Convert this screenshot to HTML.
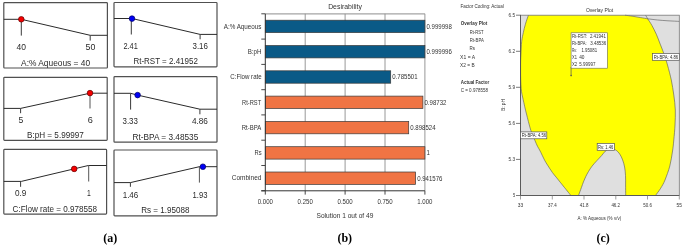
<!DOCTYPE html>
<html><head><meta charset="utf-8">
<style>
html,body{margin:0;padding:0;background:#fff;}
body{width:685px;height:246px;overflow:hidden;}
svg{display:block;will-change:transform;font-family:"Liberation Sans",sans-serif;}
.ta{fill:#2a2a2a;}
.tb{fill:#333;}
.t5{font-size:4.6px;fill:#333;}
.lab{font-family:"Liberation Serif",serif;font-weight:bold;font-size:12px;fill:#000;}
</style></head><body>
<svg width="685" height="246" viewBox="0 0 685 246">
<rect x="3.8" y="2.6" width="103.6" height="65.4" rx="0.8" fill="none" stroke="#505050" stroke-width="1.2"/>
<polyline points="3.8,19.3 21.3,19.3 90.2,35.3 107.4,35.3" fill="none" stroke="#2a2a2a" stroke-width="1.0"/>
<line x1="21.3" y1="19.3" x2="21.3" y2="35.6" stroke="#3a3a3a" stroke-width="1.0"/>
<line x1="90.2" y1="35.3" x2="90.2" y2="40.6" stroke="#3a3a3a" stroke-width="1.0"/>
<circle cx="21.3" cy="19.3" r="2.8" fill="#f50000" stroke="#600000" stroke-width="0.7"/>
<text x="16.4" y="50.2" textLength="9.5" lengthAdjust="spacingAndGlyphs" class="ta" style="font-size:8.8px">40</text>
<text x="85.6" y="50.1" textLength="9.8" lengthAdjust="spacingAndGlyphs" class="ta" style="font-size:8.8px">50</text>
<text x="21.1" y="65.8" textLength="69.0" lengthAdjust="spacingAndGlyphs" class="ta" style="font-size:8.8px">A:% Aqueous = 40</text>
<rect x="114" y="2.5" width="103.0" height="64.3" rx="0.8" fill="none" stroke="#505050" stroke-width="1.2"/>
<polyline points="114,18.5 132,18.5 200.1,34.4 217,34.4" fill="none" stroke="#2a2a2a" stroke-width="1.0"/>
<line x1="131.3" y1="18.5" x2="131.3" y2="34.5" stroke="#3a3a3a" stroke-width="1.0"/>
<line x1="200.1" y1="34.4" x2="200.1" y2="39.3" stroke="#3a3a3a" stroke-width="1.0"/>
<circle cx="132" cy="18.6" r="2.8" fill="#0000f5" stroke="#000060" stroke-width="0.7"/>
<text x="123.4" y="49.0" textLength="14.4" lengthAdjust="spacingAndGlyphs" class="ta" style="font-size:8.8px">2.41</text>
<text x="192.5" y="49.0" textLength="15.4" lengthAdjust="spacingAndGlyphs" class="ta" style="font-size:8.8px">3.16</text>
<text x="133.4" y="64.3" textLength="64.5" lengthAdjust="spacingAndGlyphs" class="ta" style="font-size:8.8px">Rt-RST = 2.41952</text>
<rect x="3.8" y="77.3" width="103.4" height="63.1" rx="0.8" fill="none" stroke="#505050" stroke-width="1.2"/>
<polyline points="3.8,108.4 20.6,108.4 90,93.2 107.2,93.2" fill="none" stroke="#2a2a2a" stroke-width="1.0"/>
<line x1="20.6" y1="108.4" x2="20.6" y2="113.2" stroke="#3a3a3a" stroke-width="1.0"/>
<line x1="90" y1="93.2" x2="90" y2="108.5" stroke="#555" stroke-width="1.0"/>
<circle cx="90" cy="93.1" r="2.8" fill="#f50000" stroke="#600000" stroke-width="0.7"/>
<text x="18.6" y="122.7" textLength="4.8" lengthAdjust="spacingAndGlyphs" class="ta" style="font-size:8.8px">5</text>
<text x="87.7" y="122.7" textLength="5.1" lengthAdjust="spacingAndGlyphs" class="ta" style="font-size:8.8px">6</text>
<text x="27.0" y="138.4" textLength="56.8" lengthAdjust="spacingAndGlyphs" class="ta" style="font-size:8.8px">B:pH = 5.99997</text>
<rect x="114" y="76.7" width="103.0" height="65.5" rx="0.8" fill="none" stroke="#505050" stroke-width="1.2"/>
<polyline points="114,93.3 130.6,93.3 137.6,95.1 199.9,109.2 217,109.2" fill="none" stroke="#2a2a2a" stroke-width="1.0"/>
<line x1="130.6" y1="93.3" x2="130.6" y2="109.6" stroke="#3a3a3a" stroke-width="1.0"/>
<line x1="199.9" y1="109.2" x2="199.9" y2="114.3" stroke="#3a3a3a" stroke-width="1.0"/>
<circle cx="137.6" cy="95.1" r="2.8" fill="#0000f5" stroke="#000060" stroke-width="0.7"/>
<text x="122.5" y="124.4" textLength="15.4" lengthAdjust="spacingAndGlyphs" class="ta" style="font-size:8.8px">3.33</text>
<text x="191.9" y="124.3" textLength="16.0" lengthAdjust="spacingAndGlyphs" class="ta" style="font-size:8.8px">4.86</text>
<text x="132.5" y="140.2" textLength="65.8" lengthAdjust="spacingAndGlyphs" class="ta" style="font-size:8.8px">Rt-BPA = 3.48535</text>
<rect x="3.8" y="149.4" width="102.8" height="64.7" rx="0.8" fill="none" stroke="#505050" stroke-width="1.2"/>
<polyline points="3.8,181.4 21.3,181.4 88.3,165.5 106.6,165.5" fill="none" stroke="#2a2a2a" stroke-width="1.0"/>
<line x1="20.6" y1="181.4" x2="20.6" y2="186.8" stroke="#3a3a3a" stroke-width="1.0"/>
<line x1="88.7" y1="165.5" x2="88.7" y2="181.5" stroke="#555" stroke-width="1.0"/>
<circle cx="74.2" cy="168.9" r="2.8" fill="#f50000" stroke="#600000" stroke-width="0.7"/>
<text x="14.9" y="196.1" textLength="11.4" lengthAdjust="spacingAndGlyphs" class="ta" style="font-size:8.8px">0.9</text>
<text x="87.0" y="196.1" textLength="3.8" lengthAdjust="spacingAndGlyphs" class="ta" style="font-size:8.8px">1</text>
<text x="12.6" y="211.6" textLength="84.5" lengthAdjust="spacingAndGlyphs" class="ta" style="font-size:8.8px">C:Flow rate = 0.978558</text>
<rect x="114" y="150" width="103.0" height="65.8" rx="0.8" fill="none" stroke="#505050" stroke-width="1.2"/>
<polyline points="114,182.6 130.4,182.6 199.4,166.7 217,166.7" fill="none" stroke="#2a2a2a" stroke-width="1.0"/>
<line x1="130.4" y1="182.6" x2="130.4" y2="186.8" stroke="#3a3a3a" stroke-width="1.0"/>
<line x1="199.4" y1="166.7" x2="199.4" y2="182.6" stroke="#555" stroke-width="1.0"/>
<circle cx="202.9" cy="166.7" r="2.8" fill="#0000f5" stroke="#000060" stroke-width="0.7"/>
<text x="122.7" y="197.5" textLength="15.6" lengthAdjust="spacingAndGlyphs" class="ta" style="font-size:8.8px">1.46</text>
<text x="192.5" y="197.5" textLength="14.9" lengthAdjust="spacingAndGlyphs" class="ta" style="font-size:8.8px">1.93</text>
<text x="141.2" y="213.2" textLength="48.2" lengthAdjust="spacingAndGlyphs" class="ta" style="font-size:8.8px">Rs = 1.95088</text>
<text x="345" y="9.1" text-anchor="middle" class="tb" style="font-size:6.9px">Desirability</text>
<line x1="265.3" y1="13.8" x2="424.9" y2="13.8" stroke="#a4a4a4" stroke-width="1.2"/>
<line x1="305.2" y1="13.8" x2="305.2" y2="190.8" stroke="#8c8c8c" stroke-width="0.9"/>
<line x1="345.1" y1="13.8" x2="345.1" y2="190.8" stroke="#8c8c8c" stroke-width="0.9"/>
<line x1="385.0" y1="13.8" x2="385.0" y2="190.8" stroke="#8c8c8c" stroke-width="0.9"/>
<line x1="424.9" y1="13.8" x2="424.9" y2="190.8" stroke="#8c8c8c" stroke-width="0.9"/>
<rect x="265.3" y="20.2" width="159.6" height="12.4" fill="#0a5a87" stroke="#3a3a3a" stroke-width="0.7"/>
<text x="426.5" y="28.8" textLength="25.3" lengthAdjust="spacingAndGlyphs" class="tb" style="font-size:6.9px">0.999998</text>
<text x="223.7" y="28.5" textLength="37.8" lengthAdjust="spacingAndGlyphs" class="tb" style="font-size:7px">A:% Aqueous</text>
<rect x="265.3" y="45.5" width="159.6" height="12.4" fill="#0a5a87" stroke="#3a3a3a" stroke-width="0.7"/>
<text x="426.5" y="54.1" textLength="25.3" lengthAdjust="spacingAndGlyphs" class="tb" style="font-size:6.9px">0.999996</text>
<text x="247.7" y="53.7" textLength="13.7" lengthAdjust="spacingAndGlyphs" class="tb" style="font-size:7px">B:pH</text>
<rect x="265.3" y="70.8" width="125.4" height="12.4" fill="#0a5a87" stroke="#3a3a3a" stroke-width="0.7"/>
<text x="392.3" y="79.4" textLength="25.3" lengthAdjust="spacingAndGlyphs" class="tb" style="font-size:6.9px">0.785501</text>
<text x="230.3" y="78.7" textLength="31.4" lengthAdjust="spacingAndGlyphs" class="tb" style="font-size:7px">C:Flow rate</text>
<rect x="265.3" y="96.1" width="157.6" height="12.4" fill="#f07444" stroke="#3a3a3a" stroke-width="0.7"/>
<text x="424.5" y="104.7" textLength="21.9" lengthAdjust="spacingAndGlyphs" class="tb" style="font-size:6.9px">0.98732</text>
<text x="242.1" y="104.8" textLength="19.1" lengthAdjust="spacingAndGlyphs" class="tb" style="font-size:7px">Rt-RST</text>
<rect x="265.3" y="121.4" width="143.4" height="12.4" fill="#f07444" stroke="#3a3a3a" stroke-width="0.7"/>
<text x="410.3" y="130.0" textLength="25.3" lengthAdjust="spacingAndGlyphs" class="tb" style="font-size:6.9px">0.898524</text>
<text x="241.8" y="129.8" textLength="19.5" lengthAdjust="spacingAndGlyphs" class="tb" style="font-size:7px">Rt-BPA</text>
<rect x="265.3" y="146.7" width="159.6" height="12.4" fill="#f07444" stroke="#3a3a3a" stroke-width="0.7"/>
<text x="426.5" y="155.3" textLength="3.4" lengthAdjust="spacingAndGlyphs" class="tb" style="font-size:6.9px">1</text>
<text x="254.6" y="155.3" textLength="7.1" lengthAdjust="spacingAndGlyphs" class="tb" style="font-size:7px">Rs</text>
<rect x="265.3" y="172.0" width="150.3" height="12.4" fill="#f07444" stroke="#3a3a3a" stroke-width="0.7"/>
<text x="417.2" y="180.6" textLength="25.3" lengthAdjust="spacingAndGlyphs" class="tb" style="font-size:6.9px">0.941576</text>
<text x="231.7" y="180.1" textLength="29.7" lengthAdjust="spacingAndGlyphs" class="tb" style="font-size:7px">Combined</text>
<line x1="265.3" y1="13.8" x2="265.3" y2="190.8" stroke="#333" stroke-width="1"/>
<line x1="261.3" y1="13.8" x2="265.3" y2="13.8" stroke="#333" stroke-width="0.9"/>
<line x1="261.3" y1="39.1" x2="265.3" y2="39.1" stroke="#333" stroke-width="0.9"/>
<line x1="261.3" y1="64.4" x2="265.3" y2="64.4" stroke="#333" stroke-width="0.9"/>
<line x1="261.3" y1="89.7" x2="265.3" y2="89.7" stroke="#333" stroke-width="0.9"/>
<line x1="261.3" y1="114.9" x2="265.3" y2="114.9" stroke="#333" stroke-width="0.9"/>
<line x1="261.3" y1="140.2" x2="265.3" y2="140.2" stroke="#333" stroke-width="0.9"/>
<line x1="261.3" y1="165.5" x2="265.3" y2="165.5" stroke="#333" stroke-width="0.9"/>
<line x1="261.3" y1="190.8" x2="265.3" y2="190.8" stroke="#333" stroke-width="0.9"/>
<line x1="261.3" y1="190.8" x2="424.9" y2="190.8" stroke="#333" stroke-width="1"/>
<line x1="265.3" y1="190.8" x2="265.3" y2="194.60000000000002" stroke="#333" stroke-width="0.9"/>
<text x="257.7" y="203.9" textLength="15.2" lengthAdjust="spacingAndGlyphs" class="tb" style="font-size:6.9px">0.000</text>
<line x1="305.2" y1="190.8" x2="305.2" y2="194.60000000000002" stroke="#333" stroke-width="0.9"/>
<text x="297.6" y="203.9" textLength="15.2" lengthAdjust="spacingAndGlyphs" class="tb" style="font-size:6.9px">0.250</text>
<line x1="345.1" y1="190.8" x2="345.1" y2="194.60000000000002" stroke="#333" stroke-width="0.9"/>
<text x="337.5" y="203.9" textLength="15.2" lengthAdjust="spacingAndGlyphs" class="tb" style="font-size:6.9px">0.500</text>
<line x1="385.0" y1="190.8" x2="385.0" y2="194.60000000000002" stroke="#333" stroke-width="0.9"/>
<text x="377.4" y="203.9" textLength="15.2" lengthAdjust="spacingAndGlyphs" class="tb" style="font-size:6.9px">0.750</text>
<line x1="424.9" y1="190.8" x2="424.9" y2="194.60000000000002" stroke="#333" stroke-width="0.9"/>
<text x="417.3" y="203.9" textLength="15.2" lengthAdjust="spacingAndGlyphs" class="tb" style="font-size:6.9px">1.000</text>
<text x="344.9" y="218.1" text-anchor="middle" class="tb" style="font-size:6.6px">Solution 1 out of 49</text>
<rect x="520.5" y="15.2" width="158.8" height="180.3" fill="#dfdfdf"/>
<path d="M528.4,15.2 L625,15.2 L625.0,15.2 C626.3,15.4 630.4,15.9 633.0,16.3 C635.6,16.7 638.1,17.2 640.6,17.6 C643.1,18.0 646.5,18.6 647.7,18.8 L647.7,18.8 C648.4,19.9 650.6,23.0 652.0,25.6 C653.4,28.2 654.9,31.1 656.3,34.2 C657.7,37.3 658.9,40.8 660.2,44.1 C661.5,47.4 662.8,50.5 664.0,54.0 C665.2,57.5 666.3,60.7 667.5,65.0 C668.7,69.3 670.2,75.0 671.3,80.0 C672.3,85.0 673.1,90.0 673.8,95.0 C674.5,100.0 675.1,105.0 675.3,110.0 C675.5,115.0 675.2,120.0 675.0,125.0 C674.8,130.0 674.2,135.5 673.8,140.0 C673.4,144.5 673.1,147.7 672.4,152.0 C671.7,156.3 671.0,161.3 669.8,166.0 C668.6,170.7 666.5,176.2 665.0,180.0 C663.5,183.8 662.1,185.9 660.5,188.5 C658.9,191.1 656.3,194.3 655.5,195.5 L625.7,195.5 L625.7,195.5 C625.7,193.8 625.6,188.3 625.6,185.0 C625.6,181.7 625.7,178.5 625.5,175.5 C625.3,172.5 625.1,169.6 624.6,167.0 C624.1,164.4 623.4,162.0 622.6,159.9 C621.8,157.8 621.0,155.9 619.8,154.2 C618.6,152.5 617.2,150.8 615.5,149.9 C613.8,149.0 611.5,148.4 609.8,148.6 C608.1,148.8 606.9,149.8 605.5,151.0 C604.1,152.2 603.0,154.0 601.6,155.6 C600.2,157.2 598.6,158.8 597.0,160.5 C595.4,162.2 593.5,164.3 592.1,166.1 C590.7,167.9 589.6,169.7 588.5,171.5 C587.4,173.3 586.6,174.9 585.7,176.7 C584.9,178.4 584.1,180.2 583.4,182.0 C582.7,183.8 582.3,185.1 581.5,187.3 C580.7,189.6 579.0,194.1 578.5,195.5 L570.9,195.5 L570.9,195.5 C570.5,195.0 569.4,193.7 568.3,192.3 C567.2,190.9 565.6,188.9 564.2,187.2 C562.9,185.5 561.6,183.9 560.2,182.2 C558.9,180.5 557.4,178.7 556.1,177.1 C554.8,175.5 553.8,174.5 552.4,172.5 C551.0,170.5 548.9,167.2 547.6,165.2 C546.3,163.1 545.5,161.9 544.6,160.2 C543.7,158.5 542.9,156.8 542.1,155.1 C541.3,153.4 540.4,151.4 539.6,150.0 C538.9,148.6 538.4,148.1 537.6,146.5 C536.8,144.9 535.7,142.3 534.9,140.4 C534.1,138.5 533.3,136.7 532.6,135.0 C531.9,133.3 531.5,132.2 530.9,130.5 C530.3,128.8 529.9,127.2 529.3,125.0 C528.7,122.8 528.0,120.1 527.4,117.6 C526.8,115.1 526.1,112.6 525.5,110.1 C524.9,107.6 524.3,104.7 523.8,102.5 C523.3,100.3 523.0,98.8 522.6,97.0 C522.2,95.2 521.8,93.6 521.5,91.5 C521.2,89.4 521.0,87.2 520.9,84.4 C520.8,81.7 520.6,78.2 520.6,75.0 C520.6,71.8 520.6,68.3 520.6,65.0 C520.6,61.7 520.7,59.0 520.9,55.0 C521.1,51.0 521.3,45.0 521.7,41.3 C522.1,37.6 522.7,35.6 523.3,32.7 C523.9,29.9 524.5,27.1 525.4,24.2 C526.2,21.3 527.9,16.7 528.4,15.2 Z" fill="#ffff00"/>
<path d="M625.0,15.2 C626.3,15.4 630.4,15.9 633.0,16.3 C635.6,16.7 638.1,17.2 640.6,17.6 C643.1,18.0 646.5,18.6 647.7,18.8" fill="none" stroke="#555" stroke-width="0.6"/>
<path d="M647.7,18.8 C648.4,19.9 650.6,23.0 652.0,25.6 C653.4,28.2 654.9,31.1 656.3,34.2 C657.7,37.3 658.9,40.8 660.2,44.1 C661.5,47.4 662.8,50.5 664.0,54.0 C665.2,57.5 666.3,60.7 667.5,65.0 C668.7,69.3 670.2,75.0 671.3,80.0 C672.3,85.0 673.1,90.0 673.8,95.0 C674.5,100.0 675.1,105.0 675.3,110.0 C675.5,115.0 675.2,120.0 675.0,125.0 C674.8,130.0 674.2,135.5 673.8,140.0 C673.4,144.5 673.1,147.7 672.4,152.0 C671.7,156.3 671.0,161.3 669.8,166.0 C668.6,170.7 666.5,176.2 665.0,180.0 C663.5,183.8 662.1,185.9 660.5,188.5 C658.9,191.1 656.3,194.3 655.5,195.5" fill="none" stroke="#555" stroke-width="0.6"/>
<path d="M625.7,195.5 C625.7,193.8 625.6,188.3 625.6,185.0 C625.6,181.7 625.7,178.5 625.5,175.5 C625.3,172.5 625.1,169.6 624.6,167.0 C624.1,164.4 623.4,162.0 622.6,159.9 C621.8,157.8 621.0,155.9 619.8,154.2 C618.6,152.5 617.2,150.8 615.5,149.9 C613.8,149.0 611.5,148.4 609.8,148.6 C608.1,148.8 606.9,149.8 605.5,151.0 C604.1,152.2 603.0,154.0 601.6,155.6 C600.2,157.2 598.6,158.8 597.0,160.5 C595.4,162.2 593.5,164.3 592.1,166.1 C590.7,167.9 589.6,169.7 588.5,171.5 C587.4,173.3 586.6,174.9 585.7,176.7 C584.9,178.4 584.1,180.2 583.4,182.0 C582.7,183.8 582.3,185.1 581.5,187.3 C580.7,189.6 579.0,194.1 578.5,195.5" fill="none" stroke="#555" stroke-width="0.6"/>
<path d="M570.9,195.5 C570.5,195.0 569.4,193.7 568.3,192.3 C567.2,190.9 565.6,188.9 564.2,187.2 C562.9,185.5 561.6,183.9 560.2,182.2 C558.9,180.5 557.4,178.7 556.1,177.1 C554.8,175.5 553.8,174.5 552.4,172.5 C551.0,170.5 548.9,167.2 547.6,165.2 C546.3,163.1 545.5,161.9 544.6,160.2 C543.7,158.5 542.9,156.8 542.1,155.1 C541.3,153.4 540.4,151.4 539.6,150.0 C538.9,148.6 538.4,148.1 537.6,146.5 C536.8,144.9 535.7,142.3 534.9,140.4 C534.1,138.5 533.3,136.7 532.6,135.0 C531.9,133.3 531.5,132.2 530.9,130.5 C530.3,128.8 529.9,127.2 529.3,125.0 C528.7,122.8 528.0,120.1 527.4,117.6 C526.8,115.1 526.1,112.6 525.5,110.1 C524.9,107.6 524.3,104.7 523.8,102.5 C523.3,100.3 523.0,98.8 522.6,97.0 C522.2,95.2 521.8,93.6 521.5,91.5 C521.2,89.4 521.0,87.2 520.9,84.4 C520.8,81.7 520.6,78.2 520.6,75.0 C520.6,71.8 520.6,68.3 520.6,65.0 C520.6,61.7 520.7,59.0 520.9,55.0 C521.1,51.0 521.3,45.0 521.7,41.3 C522.1,37.6 522.7,35.6 523.3,32.7 C523.9,29.9 524.5,27.1 525.4,24.2 C526.2,21.3 527.9,16.7 528.4,15.2" fill="none" stroke="#555" stroke-width="0.6"/>
<path d="M647.7,18.8 C649.4,19.0 654.3,19.7 657.7,20.0 C661.1,20.3 664.4,20.6 668.0,20.8 C671.6,21.0 677.4,21.3 679.3,21.4" fill="none" stroke="#555" stroke-width="0.6"/>
<line x1="645.6" y1="15.2" x2="647.7" y2="18.8" stroke="#555" stroke-width="0.6"/>
<rect x="520.5" y="15.2" width="158.8" height="180.3" fill="none" stroke="#777" stroke-width="0.8"/>
<line x1="520.5" y1="15.2" x2="520.5" y2="195.5" stroke="#555" stroke-width="0.9"/>
<line x1="520.5" y1="195.5" x2="679.3" y2="195.5" stroke="#555" stroke-width="0.9"/>
<line x1="516.0" y1="15.2" x2="520.5" y2="15.2" stroke="#444" stroke-width="0.7"/>
<text x="508.6" y="17.0" textLength="6.5" lengthAdjust="spacingAndGlyphs" style="font-size:4.9px;fill:#333">6.5</text>
<line x1="516.0" y1="51.3" x2="520.5" y2="51.3" stroke="#444" stroke-width="0.7"/>
<text x="508.6" y="53.1" textLength="6.5" lengthAdjust="spacingAndGlyphs" style="font-size:4.9px;fill:#333">6.2</text>
<line x1="516.0" y1="87.3" x2="520.5" y2="87.3" stroke="#444" stroke-width="0.7"/>
<text x="508.6" y="89.1" textLength="6.5" lengthAdjust="spacingAndGlyphs" style="font-size:4.9px;fill:#333">5.9</text>
<line x1="516.0" y1="123.4" x2="520.5" y2="123.4" stroke="#444" stroke-width="0.7"/>
<text x="508.6" y="125.2" textLength="6.5" lengthAdjust="spacingAndGlyphs" style="font-size:4.9px;fill:#333">5.6</text>
<line x1="516.0" y1="159.4" x2="520.5" y2="159.4" stroke="#444" stroke-width="0.7"/>
<text x="508.6" y="161.2" textLength="6.5" lengthAdjust="spacingAndGlyphs" style="font-size:4.9px;fill:#333">5.3</text>
<line x1="516.0" y1="195.5" x2="520.5" y2="195.5" stroke="#444" stroke-width="0.7"/>
<text x="512.9" y="197.3" textLength="2.2" lengthAdjust="spacingAndGlyphs" style="font-size:4.9px;fill:#333">5</text>
<line x1="520.5" y1="195.5" x2="520.5" y2="199.5" stroke="#777" stroke-width="0.7"/>
<text x="517.8" y="207.1" textLength="5.4" lengthAdjust="spacingAndGlyphs" style="font-size:4.9px;fill:#333">33</text>
<line x1="552.3" y1="195.5" x2="552.3" y2="199.5" stroke="#777" stroke-width="0.7"/>
<text x="548.0" y="207.1" textLength="8.6" lengthAdjust="spacingAndGlyphs" style="font-size:4.9px;fill:#333">37.4</text>
<line x1="584.0" y1="195.5" x2="584.0" y2="199.5" stroke="#777" stroke-width="0.7"/>
<text x="579.7" y="207.1" textLength="8.7" lengthAdjust="spacingAndGlyphs" style="font-size:4.9px;fill:#333">41.8</text>
<line x1="615.8" y1="195.5" x2="615.8" y2="199.5" stroke="#777" stroke-width="0.7"/>
<text x="611.4" y="207.1" textLength="8.7" lengthAdjust="spacingAndGlyphs" style="font-size:4.9px;fill:#333">46.2</text>
<line x1="647.5" y1="195.5" x2="647.5" y2="199.5" stroke="#777" stroke-width="0.7"/>
<text x="643.2" y="207.1" textLength="8.7" lengthAdjust="spacingAndGlyphs" style="font-size:4.9px;fill:#333">50.6</text>
<line x1="679.3" y1="195.5" x2="679.3" y2="199.5" stroke="#777" stroke-width="0.7"/>
<text x="676.6" y="207.1" textLength="5.4" lengthAdjust="spacingAndGlyphs" style="font-size:4.9px;fill:#333">55</text>
<text x="577.4" y="219.7" textLength="43.8" lengthAdjust="spacingAndGlyphs" style="font-size:5.2px;fill:#333">A: % Aqueous (% v/v)</text>
<text transform="translate(505.2,105) rotate(-90)" text-anchor="middle" style="font-size:4.9px;fill:#333">B: pH</text>
<text x="585.9" y="11.8" textLength="27.2" lengthAdjust="spacingAndGlyphs" style="font-size:5.6px;fill:#333">Overlay Plot</text>
<text x="460.4" y="8.3" textLength="43.5" lengthAdjust="spacingAndGlyphs" style="font-size:5.5px;fill:#333">Factor Coding: Actual</text>
<text x="460.8" y="24.9" textLength="26.4" lengthAdjust="spacingAndGlyphs" style="font-size:5.5px;fill:#333;font-weight:bold">Overlay Plot</text>
<text x="469.8" y="33.7" textLength="13.7" lengthAdjust="spacingAndGlyphs" style="font-size:5.5px;fill:#333">Rt-RST</text>
<text x="469.8" y="42.1" textLength="14.0" lengthAdjust="spacingAndGlyphs" style="font-size:5.5px;fill:#333">Rt-BPA</text>
<text x="469.6" y="49.9" textLength="5.5" lengthAdjust="spacingAndGlyphs" style="font-size:5.5px;fill:#333">Rs</text>
<text x="460.1" y="58.9" textLength="15.0" lengthAdjust="spacingAndGlyphs" style="font-size:5.5px;fill:#333">X1 = A</text>
<text x="460.1" y="66.8" textLength="14.5" lengthAdjust="spacingAndGlyphs" style="font-size:5.5px;fill:#333">X2 = B</text>
<text x="460.7" y="83.8" textLength="28.6" lengthAdjust="spacingAndGlyphs" style="font-size:5.5px;fill:#333;font-weight:bold">Actual Factor</text>
<text x="460.7" y="92.3" textLength="27.3" lengthAdjust="spacingAndGlyphs" style="font-size:5.5px;fill:#333">C = 0.978558</text>
<line x1="571.1" y1="67" x2="571.1" y2="75.6" stroke="#555" stroke-width="0.7"/>
<circle cx="571.1" cy="75.6" r="0.8" fill="#555"/>
<rect x="571.1" y="32.8" width="36.2" height="35.4" fill="#fff" stroke="#666" stroke-width="0.6"/>
<text x="572.0" y="38.3" textLength="15.1" lengthAdjust="spacingAndGlyphs" style="font-size:4.9px;fill:#333">Rt-RST:</text>
<text x="589.9" y="38.3" textLength="16.1" lengthAdjust="spacingAndGlyphs" style="font-size:4.9px;fill:#333">2.41941</text>
<text x="572.0" y="44.9" textLength="14.6" lengthAdjust="spacingAndGlyphs" style="font-size:4.9px;fill:#333">Rt-BPA:</text>
<text x="590.2" y="44.9" textLength="16.1" lengthAdjust="spacingAndGlyphs" style="font-size:4.9px;fill:#333">3.48536</text>
<text x="572.0" y="51.9" textLength="4.9" lengthAdjust="spacingAndGlyphs" style="font-size:4.9px;fill:#333">Rs:</text>
<text x="581.4" y="51.9" textLength="15.7" lengthAdjust="spacingAndGlyphs" style="font-size:4.9px;fill:#333">1.95081</text>
<text x="572.0" y="59.0" textLength="4.9" lengthAdjust="spacingAndGlyphs" style="font-size:4.9px;fill:#333">X1</text>
<text x="579.2" y="59.0" textLength="5.3" lengthAdjust="spacingAndGlyphs" style="font-size:4.9px;fill:#333">40</text>
<text x="572.0" y="65.8" textLength="5.2" lengthAdjust="spacingAndGlyphs" style="font-size:4.9px;fill:#333">X2</text>
<text x="579.2" y="65.8" textLength="16.2" lengthAdjust="spacingAndGlyphs" style="font-size:4.9px;fill:#333">5.99997</text>
<rect x="652.6" y="53.4" width="26.7" height="6.9" fill="#fff" stroke="#555" stroke-width="0.7"/>
<text x="653.8" y="58.8" textLength="24.3" lengthAdjust="spacingAndGlyphs" style="font-size:5.3px;fill:#2a2a2a">Rt-BPA: 4.86</text>
<rect x="520.6" y="131.9" width="26.2" height="6.9" fill="#fff" stroke="#555" stroke-width="0.7"/>
<text x="521.8" y="137.1" textLength="24.3" lengthAdjust="spacingAndGlyphs" style="font-size:5.3px;fill:#2a2a2a">Rt-BPA: 4.56</text>
<rect x="597.2" y="143.4" width="17.2" height="6.9" fill="#fff" stroke="#555" stroke-width="0.7"/>
<text x="598.0" y="148.7" textLength="15.2" lengthAdjust="spacingAndGlyphs" style="font-size:5.3px;fill:#2a2a2a">Rs: 1.46</text>
<text class="lab" x="110.3" y="241.6" text-anchor="middle">(a)</text>
<text class="lab" x="344.8" y="241.6" text-anchor="middle">(b)</text>
<text class="lab" x="603.2" y="241.6" text-anchor="middle">(c)</text>
</svg>
</body></html>
